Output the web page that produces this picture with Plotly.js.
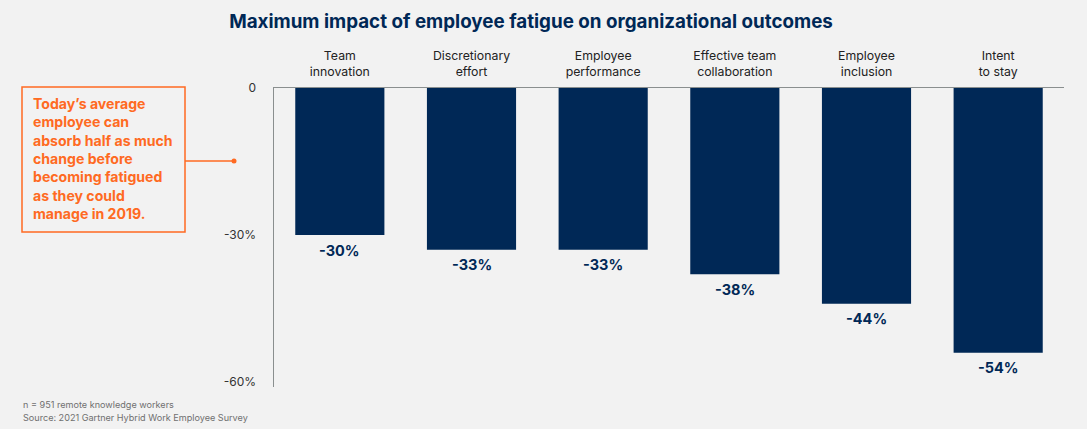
<!DOCTYPE html>
<html>
<head>
<meta charset="utf-8">
<script src="https://cdn.plot.ly/plotly-3.0.1.min.js"></script>
<style>
  html, body { margin: 0; padding: 0; background: #f2f2f2; }
  #chart { width: 1087px; height: 429px; }
</style>
</head>
<body>
<div id="chart"></div>
<script>
const categories = [
  "Team<br>innovation",
  "Discretionary<br>effort",
  "Employee<br>performance",
  "Effective team<br>collaboration",
  "Employee<br>inclusion",
  "Intent<br>to stay"
];
const impactValues = [-30, -33, -33, -38, -44, -54];
const valueLabels = ["-30%", "-33%", "-33%", "-38%", "-44%", "-54%"];
const yTickValues = [0, -30, -60];
const yTickLabels = ["0", "-30%", "-60%"];
const calloutText = "Today’s average<br>employee can<br>absorb half as much<br>change before<br>becoming fatigued<br>as they could<br>manage in 2019.";
const footnotes = ["n = 951 remote knowledge workers", "Source: 2021 Gartner Hybrid Work Employee Survey"];

const NAVY = "#002856";
const ORANGE = "#ff6a22";
const FONT = "Inter, 'Noto Sans', sans-serif";

// plot area geometry (pixels) used for paper coordinate conversion
const L = 274, R = 1064, T = 88, B = 387;
const px = x => (x - L) / (R - L);
const py = y => (B - y) / (B - T);

const trace = {
  type: "bar",
  x: categories,
  y: impactValues,
  marker: { color: NAVY },
  hoverinfo: "skip"
};

const valueAnnotations = categories.map((c, i) => ({
  xref: "x", yref: "y",
  x: c, y: impactValues[i],
  yshift: -15, yanchor: "middle", xanchor: "center",
  text: "<b>" + valueLabels[i] + "</b>",
  showarrow: false,
  font: { family: FONT, size: 14.5, color: NAVY }
}));

const layout = {
  width: 1087,
  height: 429,
  paper_bgcolor: "#f2f2f2",
  plot_bgcolor: "#f2f2f2",
  margin: { l: L, r: 1087 - R, t: T, b: 429 - B, pad: 0 },
  bargap: 0.323,
  showlegend: false,
  title: {
    text: "<b>Maximum impact of employee fatigue on organizational outcomes</b>",
    font: { family: FONT, size: 18.8, color: NAVY },
    x: 531 / 1087, xref: "container", xanchor: "center",
    y: 1 - 21 / 429, yref: "container", yanchor: "middle"
  },
  xaxis: {
    side: "top",
    showline: true,
    linecolor: "#8a8f8f",
    linewidth: 1.5,
    showgrid: false,
    zeroline: false,
    ticks: "",
    ticklabelstandoff: 6,
    tickfont: { family: FONT, size: 12.3, color: "#222222" },
    fixedrange: true
  },
  yaxis: {
    range: [-61, 0],
    showline: true,
    linecolor: "#8a8f8f",
    linewidth: 1.5,
    showgrid: false,
    zeroline: false,
    tickvals: yTickValues,
    ticktext: yTickLabels,
    ticks: "",
    ticklabelstandoff: 14,
    tickfont: { family: FONT, size: 12, color: "#333333" },
    fixedrange: true
  },
  shapes: [
    {
      type: "rect", xref: "paper", yref: "paper",
      x0: px(22), x1: px(185), y0: py(232), y1: py(87),
      line: { color: ORANGE, width: 1.5 }, fillcolor: "rgba(0,0,0,0)"
    },
    {
      type: "line", xref: "paper", yref: "paper",
      x0: px(185), x1: px(234), y0: py(161), y1: py(161),
      line: { color: ORANGE, width: 1.5 }
    },
    {
      type: "circle", xref: "paper", yref: "paper",
      xsizemode: "pixel", ysizemode: "pixel",
      xanchor: px(234), yanchor: py(161),
      x0: -2.5, x1: 2.5, y0: -2.5, y1: 2.5,
      fillcolor: ORANGE, line: { color: ORANGE, width: 0 }
    }
  ],
  annotations: valueAnnotations.concat([
    {
      xref: "paper", yref: "paper",
      x: px(31), y: py(93), xanchor: "left", yanchor: "top",
      text: "<b>" + calloutText + "</b>",
      align: "left", showarrow: false,
      font: { family: FONT, size: 14.1, color: ORANGE }
    },
    {
      xref: "paper", yref: "paper",
      x: px(21), y: py(404), xanchor: "left", yanchor: "middle",
      text: footnotes[0], align: "left", showarrow: false,
      font: { family: FONT, size: 9.1, color: "#707070" }
    },
    {
      xref: "paper", yref: "paper",
      x: px(21), y: py(417), xanchor: "left", yanchor: "middle",
      text: footnotes[1], align: "left", showarrow: false,
      font: { family: FONT, size: 9.1, color: "#707070" }
    }
  ])
};

Plotly.newPlot("chart", [trace], layout, { displayModeBar: false, staticPlot: true });
</script>
</body>
</html>
